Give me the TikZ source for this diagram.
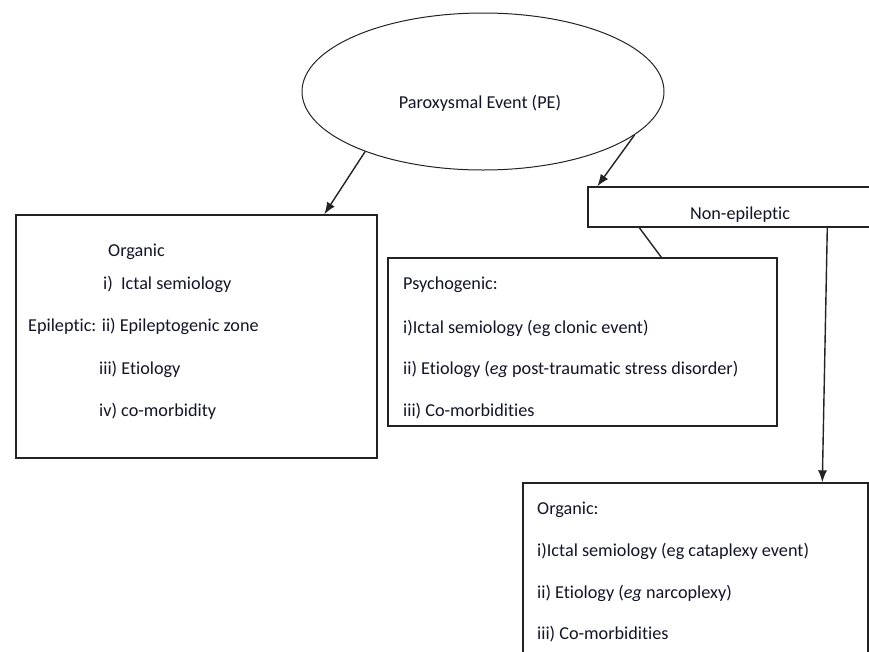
\documentclass[tikz,border=0pt]{standalone}
\usepackage{fontspec}
\setmainfont{Carlito}[Ligatures={NoCommon}]
\usetikzlibrary{shapes.geometric,arrows.meta,calc}
\definecolor{txt}{RGB}{20,20,40}
\definecolor{ln}{RGB}{35,35,35}
\tikzset{
  boxshape/.style={draw=ln, line width=1.4pt, rectangle, inner sep=0pt, fill=white},
  lbl/.style={inner sep=0pt, anchor=base west, text=txt, font=\fontsize{18.2pt}{22pt}\selectfont},
  clbl/.style={inner sep=0pt, anchor=base, text=txt, font=\fontsize{18.2pt}{22pt}\selectfont},
  arr/.style={draw=ln, line width=1.4pt, -{Latex[length=12pt,width=9pt]}},
  plain/.style={draw=ln, line width=1.4pt},
}
\begin{document}
\begin{tikzpicture}[x=1pt,y=-1pt]
\useasboundingbox (0,0) rectangle (869,651);
\clip (0,0) rectangle (869,651);
\fill[white] (0,0) rectangle (869,651);

% ellipse
\node[draw=ln, line width=1pt, ellipse, minimum width=362pt, minimum height=157pt, inner sep=0pt] (pe) at (483,91.5) {};
\node[clbl] (pelabel) at (480,108) {Paroxysmal Event (PE)};

% boxes
\node[boxshape, minimum width=361pt, minimum height=243pt] (lbox) at (196.5,336.5) {};
\node[boxshape, minimum width=332pt, minimum height=40pt] (nbox) at (754,207) {};
\node[boxshape, minimum width=389pt, minimum height=168pt] (pbox) at (582.5,342) {};
\node[boxshape, minimum width=345pt, minimum height=240pt] (obox) at (695.5,603) {};

% connectors
\draw[arr] (pe.207) -- ($(lbox.north west)+(309,0)$);
\draw[arr] (pe.344.8) -- ($(nbox.north west)+(10,0)$);
\draw[plain] ($(nbox.south west)+(52,0)$) -- ($(pbox.north west)+(274,0)$);
\draw[arr] ($(nbox.south west)+(240,0)$) -- ($(obox.north west)+(300,0)$);

% texts
\node[clbl] (ntext) at (740,219) {Non-epileptic};

\node[lbl] (l1) at (108,256) {Organic};
\node[lbl] (l2) at (103,289) {i)\ \ Ictal semiology};
\node[lbl] (l3) at (28,331) {Epileptic: ii) Epileptogenic zone};
\node[lbl] (l4) at (99,374) {iii) Etiology};
\node[lbl] (l5) at (99,416) {iv) co-morbidity};

\node[lbl] (p1) at (403,289) {Psychogenic:};
\node[lbl] (p2) at (403,333) {i)Ictal semiology (eg clonic event)};
\node[lbl] (p3) at (403,374) {ii) Etiology (\textit{eg} post-traumatic stress disorder)};
\node[lbl] (p4) at (403,416) {iii) Co-morbidities};

\node[lbl] (o1) at (537,514) {Organic:};
\node[lbl] (o2) at (537,556) {i)Ictal semiology (eg cataplexy event)};
\node[lbl] (o3) at (537,598) {ii) Etiology (\textit{eg} narcoplexy)};
\node[lbl] (o4) at (537,639) {iii) Co-morbidities};
\end{tikzpicture}
\end{document}
